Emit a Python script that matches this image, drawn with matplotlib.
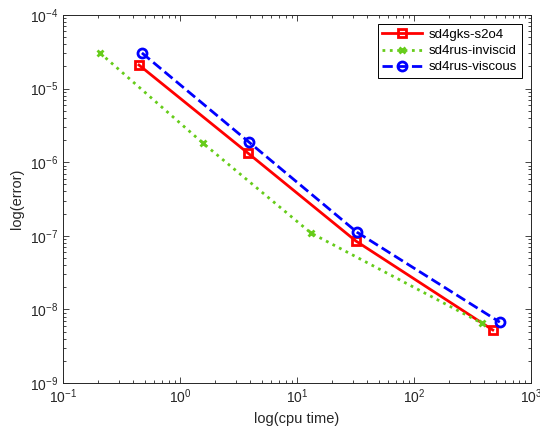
import matplotlib
matplotlib.use("Agg")
import matplotlib.pyplot as plt
from matplotlib.ticker import LogLocator, NullFormatter

plt.rcParams['font.family'] = ['Liberation Sans', 'DejaVu Sans']

# ── data ─────────────────────────────────────────────────────────────────────
gks_time = [0.446, 3.81, 31.9, 473]
gks_err = [2.09e-5, 1.33e-6, 8.5e-8, 5.25e-9]

inv_time = [0.207, 1.57, 13.2, 381]
inv_err = [3.05e-5, 1.82e-6, 1.09e-7, 6.5e-9]

vis_time = [0.473, 3.88, 32.6, 543]
vis_err = [3.05e-5, 1.88e-6, 1.12e-7, 6.7e-9]

GREEN = "#66cc1a"

fig = plt.figure(figsize=(5.4, 4.34), dpi=100)
ax = fig.add_axes([0.1167, 0.1175, 0.8663, 0.848])

ax.loglog(gks_time, gks_err, "-s", color="red", lw=2, ms=5.5,
          mfc="none", mew=2, label="sd4gks-s2o4")
ax.loglog(inv_time, inv_err, ":x", color=GREEN, lw=2, ms=4.5,
          mew=2, label="sd4rus-inviscid")
ax.loglog(vis_time, vis_err, "--o", color="blue", lw=2, ms=6.5,
          mfc="none", mew=2, label="sd4rus-viscous")

ax.set_xlim(1e-1, 1e3)
ax.set_ylim(1e-9, 1e-4)
ax.set_xlabel("log(cpu time)", fontsize=10.5, color="#262626")
ax.set_ylabel("log(error)", fontsize=10.5, color="#262626")

ax.xaxis.set_major_locator(LogLocator(base=10, numticks=10))
ax.yaxis.set_major_locator(LogLocator(base=10, numticks=10))
ax.xaxis.set_minor_locator(LogLocator(base=10, subs=range(2, 10), numticks=20))
ax.yaxis.set_minor_locator(LogLocator(base=10, subs=range(2, 10), numticks=20))
ax.xaxis.set_minor_formatter(NullFormatter())
ax.yaxis.set_minor_formatter(NullFormatter())

ax.tick_params(which="both", direction="in", top=True, right=True,
               labelsize=10, color="#262626", labelcolor="#262626", width=0.6)
ax.tick_params(which="major", length=4)
ax.tick_params(which="minor", length=2)
for s in ax.spines.values():
    s.set_linewidth(0.7)
    s.set_color("#262626")

leg = ax.legend(loc="upper right", fontsize=9.5, fancybox=False,
                edgecolor="black", framealpha=1, borderaxespad=0.7,
                handlelength=3.0, borderpad=0.35, labelspacing=0.3,
                handletextpad=0.5)
leg.get_frame().set_linewidth(0.7)

fig.savefig("out.png", dpi=100)
